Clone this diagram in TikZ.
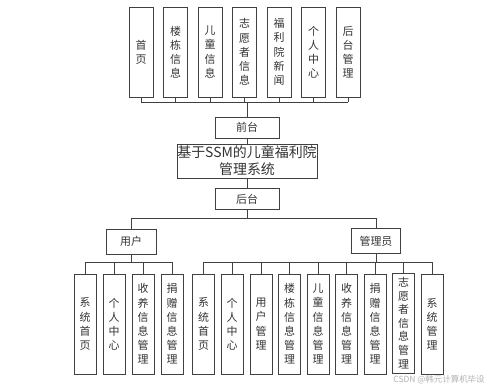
\documentclass[tikz,border=0pt]{standalone}
\usepackage{fontspec}
\newfontfamily\cjk{Noto Sans CJK SC}
\definecolor{ln}{HTML}{404040}
\definecolor{tx}{HTML}{333333}
\tikzset{
  box/.style={draw=ln, line width=1bp, fill=white, inner sep=0pt, align=center, text=tx,
    font=\cjk\fontsize{11}{14.2}\selectfont},
  vtop/.style={box, minimum width=24bp, minimum height=90bp},
  vbot/.style={box, minimum width=22bp, minimum height=100bp},
  hbox/.style={box, minimum height=21bp},
  wire/.style={draw=ln, line width=1bp}
}
\begin{document}
\begin{tikzpicture}[x=1bp, y=-1bp]
\useasboundingbox[fill=white] (0,0) rectangle (500,385);
% top row
\node[vtop] (t1) at (141,52) {首\\页};
\node[vtop] (t2) at (175.5,52) {楼\\栋\\信\\息};
\node[vtop] (t3) at (210,52) {儿\\童\\信\\息};
\node[vtop] (t4) at (244.5,52) {志\\愿\\者\\信\\息};
\node[vtop] (t5) at (279,52) {福\\利\\院\\新\\闻};
\node[vtop] (t6) at (313.5,52) {个\\人\\中\\心};
\node[vtop] (t7) at (348,52) {后\\台\\管\\理};
\node[hbox, minimum width=64bp] (qt) at (247,127.5) {前台};
\node[box, minimum width=140bp, minimum height=34bp, font=\cjk\fontsize{14}{17}\selectfont] (main) at (247,161) {基于SSM的儿童福利院\\管理系统};
\node[hbox, minimum width=64bp] (ht) at (247,199) {后台};
\node[box, minimum width=50bp, minimum height=25bp] (user) at (131,241.5) {用户};
\node[box, minimum width=49bp, minimum height=25bp] (admin) at (376,241) {管理员};
% user children
\node[vbot] (u1) at (85,324) {系\\统\\首\\页};
\node[vbot] (u2) at (114,324) {个\\人\\中\\心};
\node[vbot] (u3) at (143,324) {收\\养\\信\\息\\管\\理};
\node[vbot] (u4) at (172,324) {捐\\赠\\信\\息\\管\\理};
% admin children
\node[vbot] (a1) at (203.5,324) {系\\统\\首\\页};
\node[vbot] (a2) at (232,324) {个\\人\\中\\心};
\node[vbot] (a3) at (261,324) {用\\户\\管\\理};
\node[vbot] (a4) at (289.5,324) {楼\\栋\\信\\息\\管\\理};
\node[vbot] (a5) at (318,324) {儿\\童\\信\\息\\管\\理};
\node[vbot] (a6) at (346.5,324) {收\\养\\信\\息\\管\\理};
\node[vbot] (a7) at (375,324) {捐\\赠\\信\\息\\管\\理};
\node[vbot, font=\cjk\fontsize{11}{13.6}\selectfont] (a8) at (403.5,323) {志\\愿\\者\\信\\息\\管\\理};
\node[vbot] (a9) at (432,324) {系\\统\\管\\理};
% buses
\coordinate (b1) at (247,102);
\coordinate (b2) at (247,218);
\coordinate (b3) at (131,262);
\coordinate (b4) at (376,262);
\foreach \n in {t1,t2,t3,t4,t5,t6,t7} \draw[wire] (\n.south) -- (\n.south |- b1);
\draw[wire] (t1.south |- b1) -- (t7.south |- b1);
\draw[wire] (b1) -- (qt.north);
\draw[wire] (qt.south) -- (main.north);
\draw[wire] (main.south) -- (ht.north);
\draw[wire] (ht.south) -- (b2);
\draw[wire] (user.north |- b2) -- (admin.north |- b2);
\draw[wire] (user.north |- b2) -- (user.north);
\draw[wire] (admin.north |- b2) -- (admin.north);
\draw[wire] (user.south) -- (b3);
\draw[wire] (admin.south) -- (b4);
\foreach \n in {u1,u2,u3,u4} \draw[wire] (\n.north) -- (\n.north |- b3);
\draw[wire] (u1.north |- b3) -- (u4.north |- b3);
\foreach \n in {a1,a2,a3,a4,a5,a6,a7,a8,a9} \draw[wire] (\n.north) -- (\n.north |- b4);
\draw[wire] (a1.north |- b4) -- (a9.north |- b4);
% watermark
\node[font=\cjk\fontsize{8.5}{10}\selectfont, text=black!30, inner sep=0pt] (wm) at (439,379.5) {CSDN @韩元计算机毕设};
\end{tikzpicture}
\end{document}
